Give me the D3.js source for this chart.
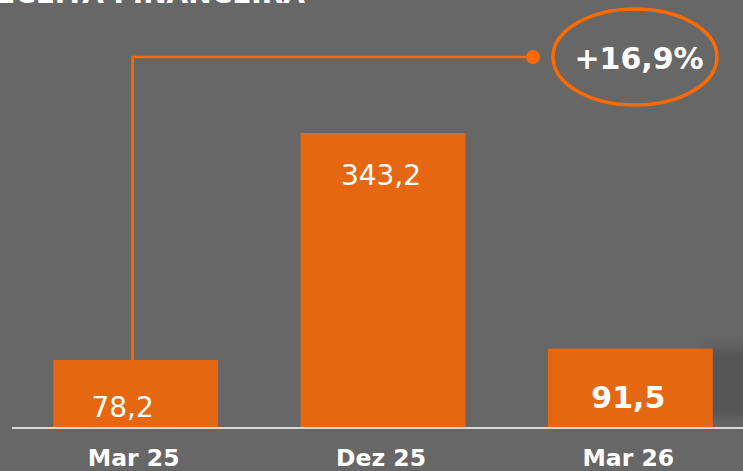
<!DOCTYPE html>
<html>
<head>
<meta charset="utf-8">
<script src="https://cdn.jsdelivr.net/npm/d3@7"></script>
<style>
  body { margin: 0; background: #676767; }
  svg { display: block; }
</style>
</head>
<body>
<div id="chart"></div>
<script>
const width = 743;
const height = 471;

// data
const categories = ["Mar 25", "Dez 25", "Mar 26"];
const values = [78.2, 343.2, 91.5];
const valueLabels = ["78,2", "343,2", "91,5"];
const boldLabel = [false, false, true];
const growthLabel = "+16,9%";
const title = "RECEITA FINANCEIRA";

const baseY = 427;
const font = "'DejaVu Sans', Verdana, sans-serif";

const svg = d3
  .select("#chart")
  .append("svg")
  .attr("width", width)
  .attr("height", height)
  .style("font-family", font);

// background, with the soft dark patch of the photo at the lower right
const defs = svg.append("defs");
defs.append("filter")
  .attr("id", "blur")
  .attr("x", "-50%").attr("y", "-50%").attr("width", "200%").attr("height", "200%")
  .append("feGaussianBlur")
  .attr("stdDeviation", 6);

svg.append("rect")
  .attr("width", width)
  .attr("height", height)
  .attr("fill", "#676767");

svg.append("rect")
  .attr("x", 700)
  .attr("y", 348)
  .attr("width", 60)
  .attr("height", 70)
  .attr("rx", 8)
  .attr("fill", "#545454")
  .attr("filter", "url(#blur)");

// title, clipped by the top edge as in the original
svg.append("text")
  .attr("x", 305)
  .attr("y", 3)
  .attr("text-anchor", "end")
  .attr("fill", "#fff")
  .attr("font-weight", "bold")
  .attr("font-size", 28)
  .text(title);

// scales
const xScale = d3.scaleBand()
  .domain(categories)
  .range([12, 754])
  .paddingInner(1 / 3)
  .paddingOuter(1 / 6);

const yScale = d3.scaleLinear()
  .domain([0, 343.2])
  .range([baseY, 133]);

const data = categories.map((c, i) => ({ cat: c, v: values[i], lab: valueLabels[i], bold: boldLabel[i], i: i }));

// connector from first bar up to the growth bubble
const x0 = xScale(categories[0]) + xScale.bandwidth() / 2 - 3;
const lineY = 57;
const dotX = 533;
svg.append("path")
  .attr("d", `M${x0},${yScale(values[0])} V${lineY} H${dotX}`)
  .attr("fill", "none")
  .attr("stroke", "#ff6a00")
  .attr("stroke-width", 2.6);

svg.append("circle")
  .attr("cx", dotX)
  .attr("cy", lineY)
  .attr("r", 7)
  .attr("fill", "#ff6a00");

svg.append("ellipse")
  .attr("cx", 635)
  .attr("cy", 57)
  .attr("rx", 82)
  .attr("ry", 48)
  .attr("fill", "none")
  .attr("stroke", "#ff6a00")
  .attr("stroke-width", 3.5);

svg.append("text")
  .attr("x", 639)
  .attr("y", 69)
  .attr("text-anchor", "middle")
  .attr("fill", "#fff")
  .attr("font-weight", "bold")
  .attr("font-size", 30)
  .text(growthLabel);

// bars
svg.selectAll("rect.bar")
  .data(data)
  .enter()
  .append("rect")
  .attr("class", "bar")
  .attr("x", (d) => xScale(d.cat))
  .attr("y", (d) => yScale(d.v))
  .attr("width", xScale.bandwidth())
  .attr("height", (d) => baseY - yScale(d.v))
  .attr("fill", "#e66712");

// value labels (first one sits a bit left of centre in the original)
svg.selectAll("text.val")
  .data(data)
  .enter()
  .append("text")
  .attr("class", "val")
  .attr("x", (d) => xScale(d.cat) + xScale.bandwidth() / 2 + (d.i === 0 ? -13 : -2))
  .attr("y", (d) => (d.v > 200 ? yScale(d.v) + 52 : d.bold ? 408 : 417))
  .attr("text-anchor", "middle")
  .attr("fill", "#fff")
  .attr("font-size", (d) => (d.bold ? 30 : 28))
  .attr("font-weight", (d) => (d.bold ? "bold" : "normal"))
  .text((d) => d.lab);

// baseline
svg.append("line")
  .attr("x1", 12)
  .attr("x2", width)
  .attr("y1", baseY + 1)
  .attr("y2", baseY + 1)
  .attr("stroke", "#d9d9d9")
  .attr("stroke-width", 2);

// category labels
const xAxis = d3.axisBottom(xScale).tickSize(0).tickPadding(0);
const gx = svg.append("g")
  .attr("transform", `translate(0,${baseY})`)
  .call(xAxis);
gx.select(".domain").remove();
gx.selectAll("text")
  .attr("dy", null)
  .attr("y", 39)
  .attr("x", -2)
  .attr("fill", "#fff")
  .attr("font-size", 23.5)
  .attr("font-weight", "bold")
  .attr("font-family", font);
</script>
</body>
</html>
